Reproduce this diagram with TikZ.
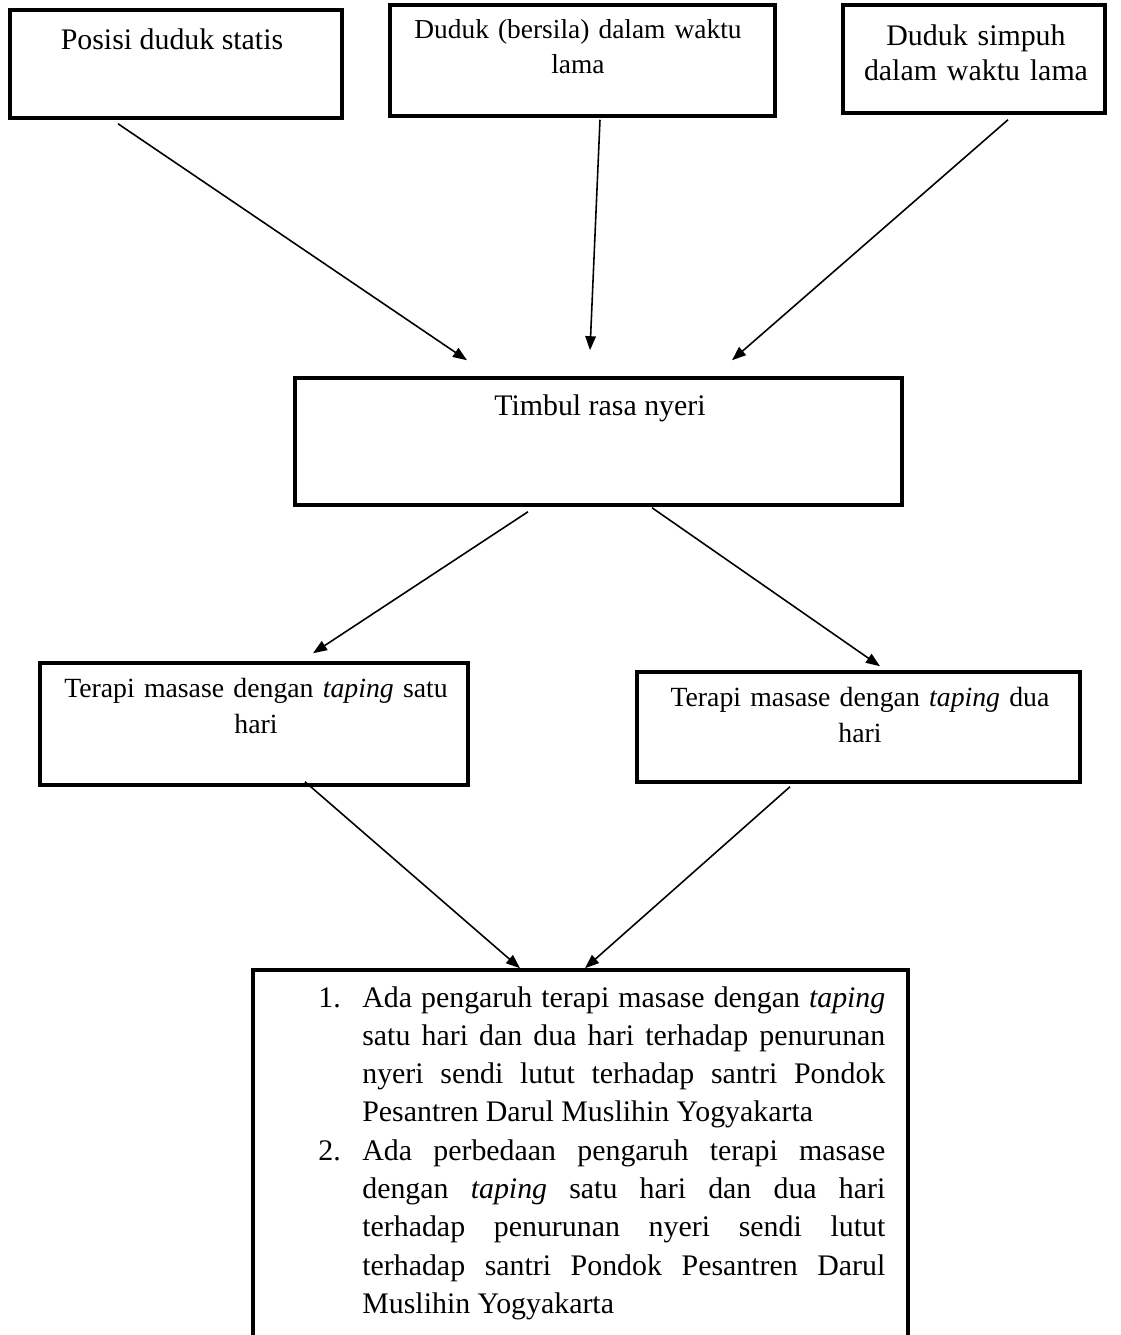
\documentclass[tikz,border=0pt]{standalone}
\usepackage{fontspec}
\setmainfont{Liberation Serif}
\usetikzlibrary{arrows.meta}

\newlength\px
\setlength\px{0.02cm}

\tikzset{
    box/.style={draw, line width=2pt, inner sep=0pt},
    txt/.style={inner sep=0pt, anchor=base, align=center,
        font=\fontsize{17}{19.4}\selectfont},
    midtxt/.style={txt, font=\fontsize{15.8}{20.5}\selectfont},
    arr/.style={line width=0.9pt, -{Triangle[length=8pt,width=6pt]}}
}

\begin{document}
\begin{tikzpicture}[x=0.02cm, y=-0.02cm]
    \useasboundingbox (0,0) rectangle (1120,1335);
    \clip (0,0) rectangle (1120,1335);

    % top row: three sitting habits
    \node[box, minimum width=332\px, minimum height=108\px] (sit1) at (176,64) {};
    \node[box, minimum width=385\px, minimum height=111\px] (sila) at (582.5,60.5) {};
    \node[box, minimum width=262\px, minimum height=108\px] (simpuh) at (974,59) {};
    \node[txt] (sit1t) at (172,50) {Posisi duduk statis};
    \node[txt, text width=370\px, font=\fontsize{15.6}{19.4}\selectfont] (silat) at (578,39) {Duduk (bersila) dalam waktu\\lama};
    \node[txt, text width=250\px] (simpuht) at (976,46) {Duduk simpuh\\dalam waktu lama};

    % middle: pain
    \node[box, minimum width=607\px, minimum height=127\px] (nyeri) at (598.5,441.5) {};
    \node[txt] (nyerit) at (600,415) {Timbul rasa nyeri};

    % two therapies
    \node[box, minimum width=428\px, minimum height=122\px] (satu) at (254,724) {};
    \node[box, minimum width=443\px, minimum height=110\px] (dua) at (858.5,727) {};
    \node[midtxt, text width=410\px] (satut) at (256,697) {Terapi masase dengan \textit{taping} satu\\hari};
    \node[midtxt, text width=430\px] (duat) at (860,706) {Terapi masase dengan \textit{taping} dua\\hari};

    % conclusion, runs past the bottom edge
    \node[box, minimum width=655\px, minimum height=375\px] (hasil) at (580.5,1157.5) {};
    \node[txt, anchor=base west, text width=567\px, align=justify,
        font=\fontsize{17}{21.8}\selectfont] (hasilt) at (318,1007) {%
        \hangindent=44\px\hangafter=1\noindent\makebox[44\px][l]{1.}Ada
        pengaruh terapi masase dengan \textit{taping}\linebreak satu hari dan
        dua hari terhadap penurunan\linebreak nyeri sendi lutut terhadap santri
        Pondok\linebreak Pesantren Darul Muslihin Yogyakarta\par
        \hangindent=44\px\hangafter=1\noindent\makebox[44\px][l]{2.}Ada
        perbedaan pengaruh terapi masase\linebreak dengan \textit{taping} satu
        hari dan dua hari\linebreak terhadap penurunan nyeri sendi
        lutut\linebreak terhadap santri Pondok Pesantren Darul\linebreak
        Muslihin Yogyakarta\par};

    % connectors: from/xshift/yshift/to/xshift/yshift
    \foreach \a/\ax/\ay/\b/\bx/\by in {
        sit1/-58/-4/nyeri/-131.5/16,
        sila/17.5/-2/nyeri/-8.5/26,
        simpuh/34/-5/nyeri/133.5/16,
        nyeri/-70.5/-5/satu/59/8,
        nyeri/53.5/-1/dua/21.5/4,
        satu/51/5/hasil/-60.5/0,
        dua/-68.5/-3/hasil/4.5/0%
    }{%
        \draw[arr] ([xshift=\ax\px, yshift=\ay\px]\a.south)
            -- ([xshift=\bx\px, yshift=\by\px]\b.north);
    }
\end{tikzpicture}
\end{document}
